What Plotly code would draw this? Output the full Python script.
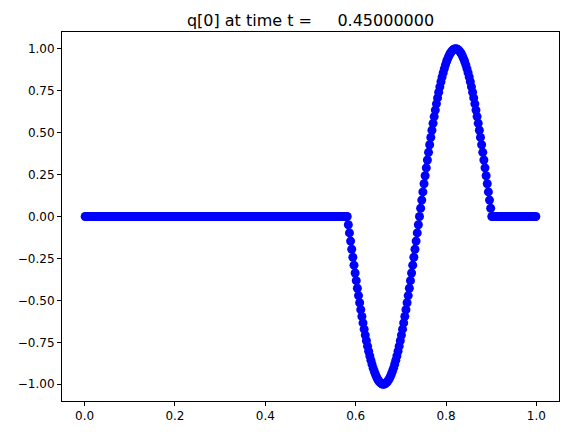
import numpy as np
import plotly.graph_objects as go

# grid of cell centers (400 cells on [0, 1])
n_cells = 400
x_vals = [(i + 0.5) / n_cells for i in range(n_cells)]

# solution q[0] values
q_left = [0.0] * 232
q_wave = [
    0.0, -0.0491, -0.0980, -0.1467, -0.1951, -0.2430, -0.2903, -0.3369, -0.3827, -0.4276,
    -0.4714, -0.5141, -0.5556, -0.5957, -0.6344, -0.6716, -0.7071, -0.7410, -0.7730, -0.8032,
    -0.8315, -0.8577, -0.8819, -0.9040, -0.9239, -0.9415, -0.9569, -0.9700, -0.9808, -0.9892,
    -0.9952, -0.9988, -1.0,
    -0.9988, -0.9952, -0.9892, -0.9808, -0.9700, -0.9569, -0.9415, -0.9239, -0.9040, -0.8819,
    -0.8577, -0.8315, -0.8032, -0.7730, -0.7410, -0.7071, -0.6716, -0.6344, -0.5957, -0.5556,
    -0.5141, -0.4714, -0.4276, -0.3827, -0.3369, -0.2903, -0.2430, -0.1951, -0.1467, -0.0980,
    -0.0491, 0.0,
    0.0491, 0.0980, 0.1467, 0.1951, 0.2430, 0.2903, 0.3369, 0.3827, 0.4276, 0.4714,
    0.5141, 0.5556, 0.5957, 0.6344, 0.6716, 0.7071, 0.7410, 0.7730, 0.8032, 0.8315,
    0.8577, 0.8819, 0.9040, 0.9239, 0.9415, 0.9569, 0.9700, 0.9808, 0.9892, 0.9952,
    0.9988, 1.0,
    0.9988, 0.9952, 0.9892, 0.9808, 0.9700, 0.9569, 0.9415, 0.9239, 0.9040, 0.8819,
    0.8577, 0.8315, 0.8032, 0.7730, 0.7410, 0.7071, 0.6716, 0.6344, 0.5957, 0.5556,
    0.5141, 0.4714, 0.4276, 0.3827, 0.3369, 0.2903, 0.2430, 0.1951, 0.1467, 0.0980,
    0.0491, 0.0,
]
q_right = [0.0] * 39
q_vals = q_left + q_wave + q_right

x_ticks = [0.0, 0.2, 0.4, 0.6, 0.8, 1.0]
y_ticks = [-1.0, -0.75, -0.5, -0.25, 0.0, 0.25, 0.5, 0.75, 1.0]

title_text = "q[0] at time t =" + "\u00a0" * 5 + "0.45000000"

fig = go.Figure()
fig.add_trace(go.Scatter(
    x=x_vals, y=q_vals, mode="markers",
    marker=dict(color="#0000ff", size=9, line=dict(width=0)),
    hoverinfo="skip",
))

axis_common = dict(
    showgrid=False, zeroline=False, automargin=False,
    showline=True, linecolor="black", linewidth=1, mirror=True,
    ticks="outside", ticklen=4, tickwidth=1, tickcolor="black",
    tickfont=dict(family="DejaVu Sans", size=12, color="black"),
)

fig.update_layout(
    width=568, height=435,
    margin=dict(l=62, r=9, t=32, b=34, autoexpand=False),
    paper_bgcolor="white", plot_bgcolor="white",
    showlegend=False,
    font=dict(family="DejaVu Sans", color="black"),
    title=dict(
        text=title_text, x=0.5, xref="paper", xanchor="center",
        y=1, yref="paper", yanchor="bottom", pad=dict(b=6), automargin=False,
        font=dict(family="DejaVu Sans", size=16, color="black"),
    ),
    xaxis=dict(range=[-0.05, 1.05], tickvals=x_ticks, tickformat=".1f", **axis_common),
    yaxis=dict(range=[-1.1, 1.1], tickvals=y_ticks, tickformat=".2f", **axis_common),
)

fig.write_html(
    "out.html",
    config={"displayModeBar": False, "staticPlot": True},
    post_script="document.body.style.margin='0px';",
)
